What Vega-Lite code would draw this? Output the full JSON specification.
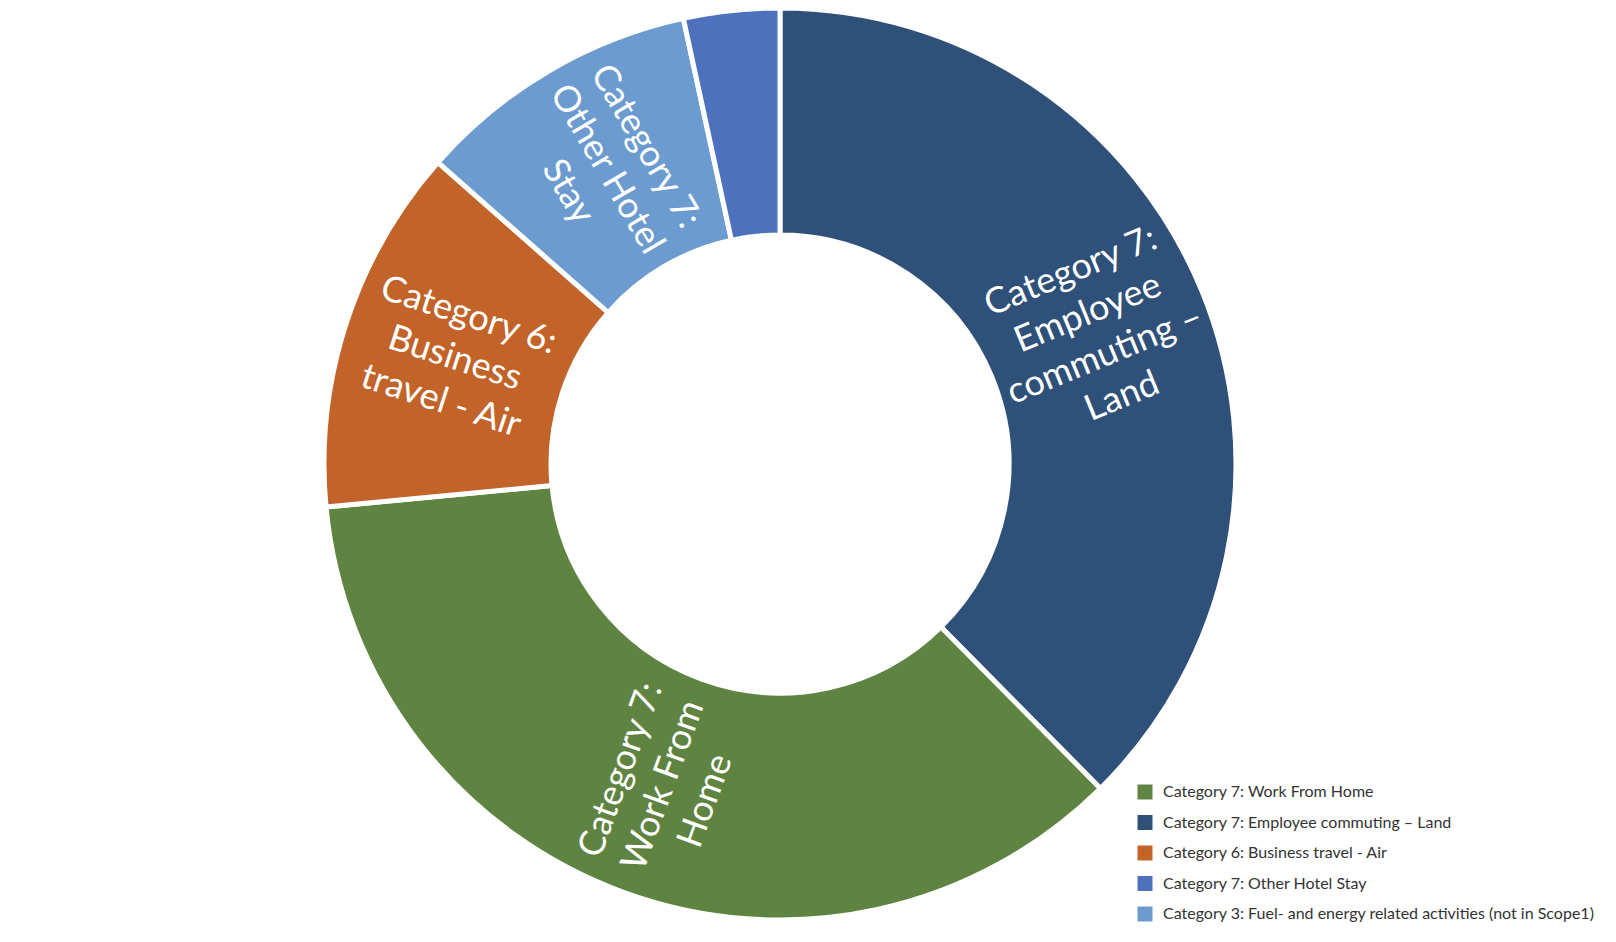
{
  "$schema": "https://vega.github.io/schema/vega-lite/v6.json",
  "width": 1560,
  "height": 928,
  "autosize": "none",
  "padding": {"left": 0, "top": 0, "right": 56, "bottom": 14},
  "background": "white",
  "config": {"view": {"stroke": null}},
  "data": {
    "values": [
      {"seq": 1, "category": "Category 7: Employee commuting – Land", "label": "Category 7:\nEmployee\ncommuting –\nLand", "value": 37.6},
      {"seq": 2, "category": "Category 7: Work From Home", "label": "Category 7:\nWork From\nHome", "value": 35.9},
      {"seq": 3, "category": "Category 6: Business travel - Air", "label": "Category 6:\nBusiness\ntravel - Air", "value": 13.0},
      {"seq": 4, "category": "Category 3: Fuel- and energy related activities (not in Scope1)", "label": "Category 7:\nOther Hotel\nStay", "value": 10.1},
      {"seq": 5, "category": "Category 7: Other Hotel Stay", "label": "", "value": 3.4}
    ]
  },
  "transform": [
    {"joinaggregate": [{"op": "sum", "field": "value", "as": "total"}]},
    {"stack": "value", "groupby": [], "sort": [{"field": "seq"}], "as": ["v0", "v1"]},
    {"calculate": "(datum.v0 + datum.v1) / 2 / datum.total * 360 - 90", "as": "t"},
    {"calculate": "datum.t > 90 ? datum.t - 180 : datum.t", "as": "rot"},
    {"calculate": "length(split(datum.label, '\\n'))", "as": "lines"},
    {"calculate": "datum.lines == 4 ? datum.label : ''", "as": "label4"},
    {"calculate": "datum.lines == 3 ? datum.label : ''", "as": "label3"}
  ],
  "encoding": {
    "theta": {"field": "value", "type": "quantitative", "stack": true},
    "order": {"field": "seq", "type": "quantitative"}
  },
  "layer": [
    {
      "mark": {"type": "arc", "radius": 456, "innerRadius": 229, "stroke": "white", "strokeWidth": 5},
      "encoding": {
        "color": {
          "field": "category",
          "type": "nominal",
          "scale": {
            "domain": [
              "Category 7: Work From Home",
              "Category 7: Employee commuting – Land",
              "Category 6: Business travel - Air",
              "Category 7: Other Hotel Stay",
              "Category 3: Fuel- and energy related activities (not in Scope1)"
            ],
            "range": ["#5F8442", "#2F5078", "#C26329", "#4E71BE", "#6C9BCF"]
          },
          "legend": {
            "title": null,
            "orient": "none",
            "legendX": 1137,
            "legendY": 784,
            "symbolType": "square",
            "symbolSize": 225,
            "symbolStrokeWidth": 0,
            "labelFont": "Lato",
            "labelFontSize": 16,
            "labelColor": "#333333",
            "labelLimit": 600,
            "labelOffset": 10,
            "rowPadding": 14.5
          }
        }
      }
    },
    {
      "mark": {
        "type": "text",
        "radius": 342,
        "font": "Lato",
        "fontSize": 36,
        "color": "white",
        "align": "center",
        "baseline": "middle",
        "lineBreak": "\n",
        "lineHeight": 45,
        "dy": -67.5
      },
      "encoding": {
        "text": {"field": "label4"},
        "angle": {"field": "rot", "type": "quantitative", "scale": null}
      }
    },
    {
      "mark": {
        "type": "text",
        "radius": 342,
        "font": "Lato",
        "fontSize": 36,
        "color": "white",
        "align": "center",
        "baseline": "middle",
        "lineBreak": "\n",
        "lineHeight": 45,
        "dy": -45
      },
      "encoding": {
        "text": {"field": "label3"},
        "angle": {"field": "rot", "type": "quantitative", "scale": null}
      }
    }
  ]
}
